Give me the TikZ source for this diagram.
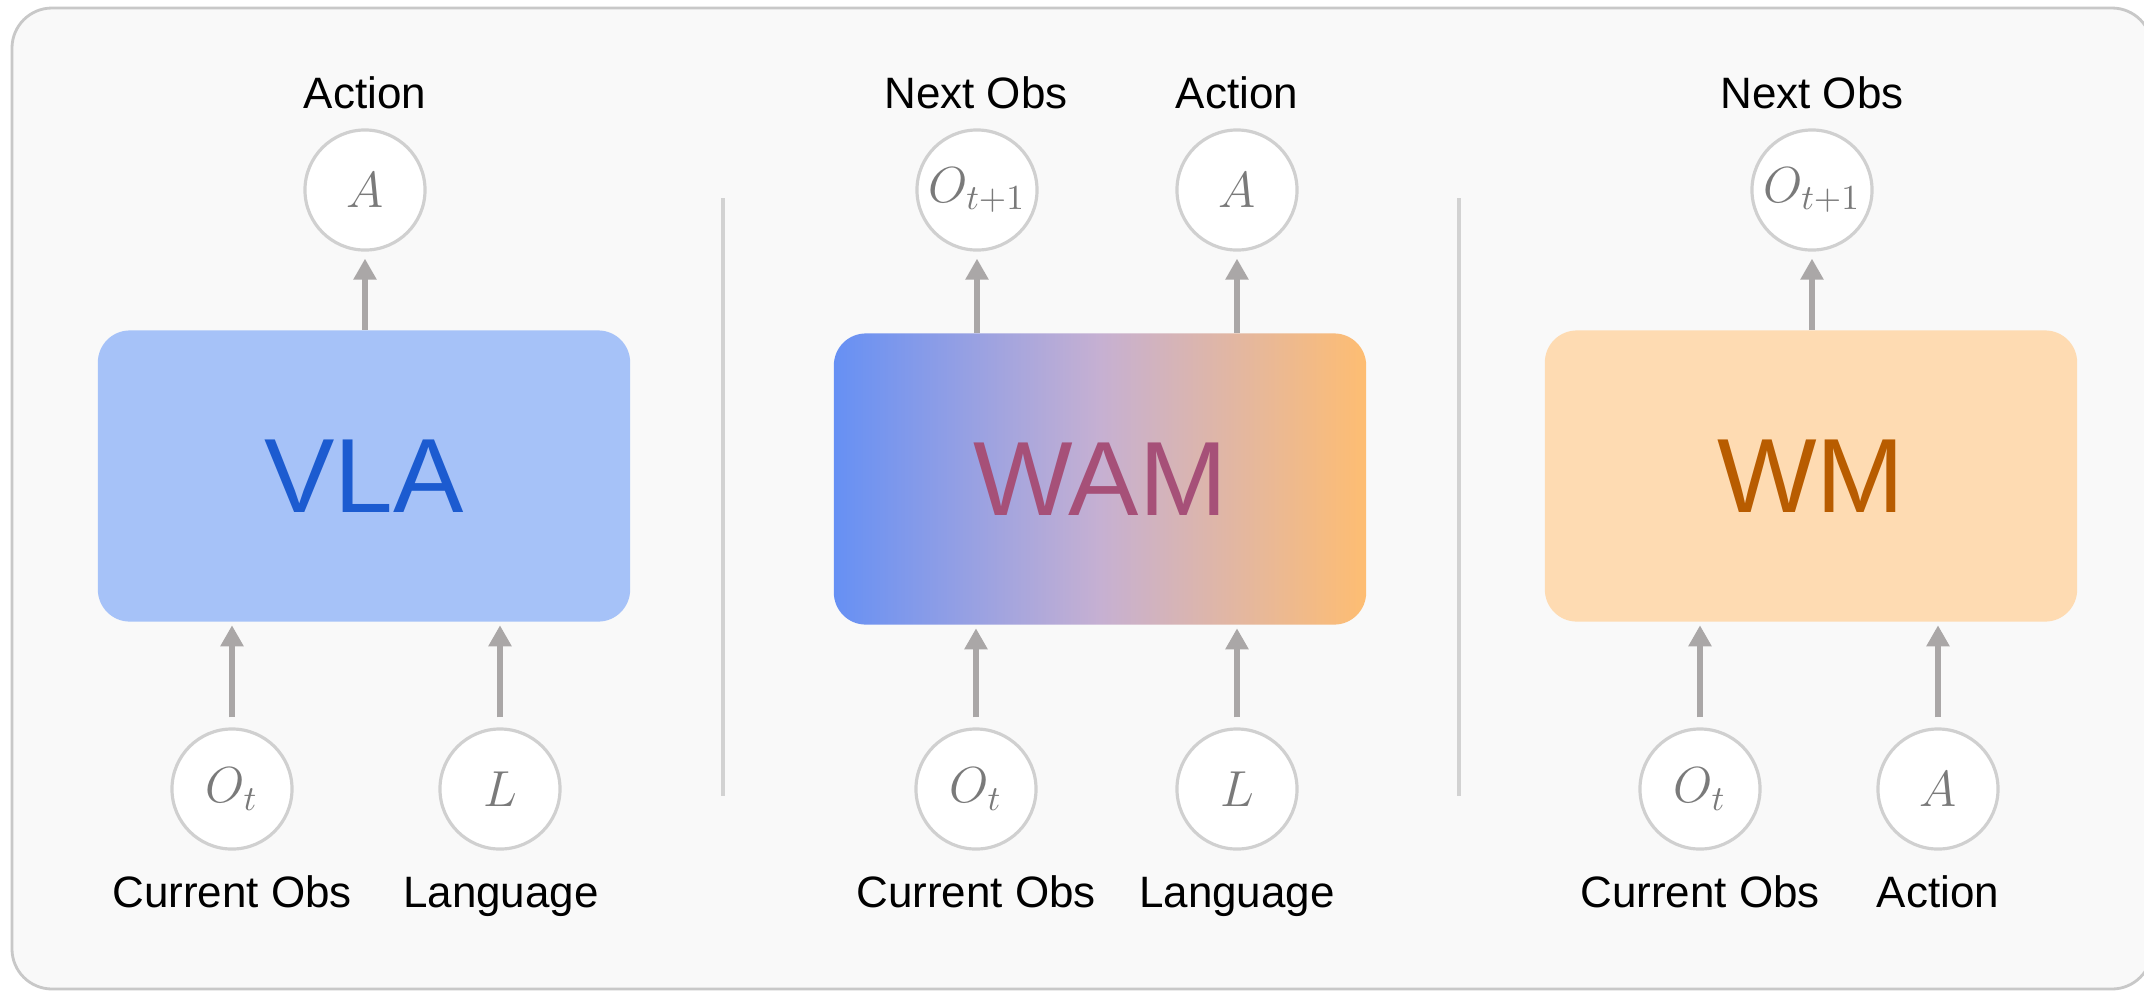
\documentclass[tikz,border=0pt]{standalone}
\usepackage[no-math]{fontspec}
\setmainfont{Liberation Sans}
\usetikzlibrary{arrows.meta}
\definecolor{framefill}{HTML}{F9F9F9}
\definecolor{framedraw}{HTML}{C8C8C8}
\definecolor{circdraw}{HTML}{D0D0D0}
\definecolor{vartext}{HTML}{7A7A7A}
\definecolor{arrowc}{HTML}{AAA7A7}
\definecolor{divc}{HTML}{D2D2D2}
\definecolor{vlafill}{HTML}{A6C2F8}
\definecolor{vlatext}{HTML}{1C5BD0}
\definecolor{wmfill}{HTML}{FEDBB2}
\definecolor{wmtext}{HTML}{B85C00}
\definecolor{wamtext}{HTML}{A65078}
\definecolor{wamL}{HTML}{6690F4}
\definecolor{wamM}{HTML}{C6B0D2}
\definecolor{wamR}{HTML}{FEBD72}
\begin{document}
\begin{tikzpicture}[x=0.01cm,y=-0.01cm,
  lbl/.style={font=\fontsize{12.5}{15}\selectfont, anchor=base, inner sep=0pt, text=black},
  var/.style={circle, draw=circdraw, line width=0.9pt, fill=white, minimum size=1.2cm, inner sep=0pt, text=vartext, font=\fontsize{14.5}{17}\selectfont},
  model/.style={rounded corners=0.32cm, minimum width=5.32cm, minimum height=2.91cm, inner sep=0pt, font=\fontsize{30}{36}\selectfont},
  arr/.style={draw=arrowc, line width=1.7pt, -{Triangle[width=6.3pt,length=6pt]}},
  uparr/.style={arr, shorten >=0.07cm},
  inarr/.style={arr, shorten <=0.1cm, shorten >=0.03cm},
  divider/.style={draw=divc, line width=1.4pt}
]
\useasboundingbox (0,0) rectangle (2144,993);
\fill[white] (0,0) rectangle (2144,993);
\draw[draw=framedraw, fill=framefill, line width=0.8pt, rounded corners=0.4cm] (12,8) rectangle (2152,989);

% dividers
\coordinate (d1t) at (723,198); \coordinate (d1b) at (723,796);
\coordinate (d2t) at (1459,198); \coordinate (d2b) at (1459,796);
\draw[divider] (d1t) -- (d1b);
\draw[divider] (d2t) -- (d2b);

% ---------- VLA ----------
\node[model, fill=vlafill, text=vlatext] (vla) at (364,476) {VLA};
\node[var] (vlaA) at (365,190) {$A$};
\node[lbl] (vlaAl) at (365,108) {Action};
\node[var] (vlaO) at (232,789) {$O_t$};
\node[var] (vlaL) at (500,789) {$L$};
\node[lbl] (vlaOl) at (232,907) {Current Obs};
\node[lbl] (vlaLl) at (501,907) {Language};
\draw[uparr] (vla.north -| vlaA) -- (vlaA);
\draw[inarr] (vlaO) -- (vlaO |- vla.south);
\draw[inarr] (vlaL) -- (vlaL |- vla.south);

% ---------- WAM ----------
\node[model, left color=wamL, right color=wamR, middle color=wamM, text=wamtext] (wam) at (1100,479) {WAM};
\node[var] (wamO1) at (977,190) {$O_{t+1}$};
\node[var] (wamA) at (1237,190) {$A$};
\node[lbl] (wamO1l) at (976,108) {Next Obs};
\node[lbl] (wamAl) at (1237,108) {Action};
\node[var] (wamO) at (976,789) {$O_t$};
\node[var] (wamL) at (1237,789) {$L$};
\node[lbl] (wamOl) at (976,907) {Current Obs};
\node[lbl] (wamLl) at (1237,907) {Language};
\draw[uparr] (wam.north -| wamO1) -- (wamO1);
\draw[uparr] (wam.north -| wamA) -- (wamA);
\draw[inarr] (wamO) -- (wamO |- wam.south);
\draw[inarr] (wamL) -- (wamL |- wam.south);

% ---------- WM ----------
\node[model, fill=wmfill, text=wmtext] (wm) at (1811,476) {WM};
\node[var] (wmO1) at (1812,190) {$O_{t+1}$};
\node[lbl] (wmO1l) at (1812,108) {Next Obs};
\node[var] (wmO) at (1700,789) {$O_t$};
\node[var] (wmA) at (1938,789) {$A$};
\node[lbl] (wmOl) at (1700,907) {Current Obs};
\node[lbl] (wmAl) at (1938,907) {Action};
\draw[uparr] (wm.north -| wmO1) -- (wmO1);
\draw[inarr] (wmO) -- (wmO |- wm.south);
\draw[inarr] (wmA) -- (wmA |- wm.south);
\end{tikzpicture}
\end{document}
